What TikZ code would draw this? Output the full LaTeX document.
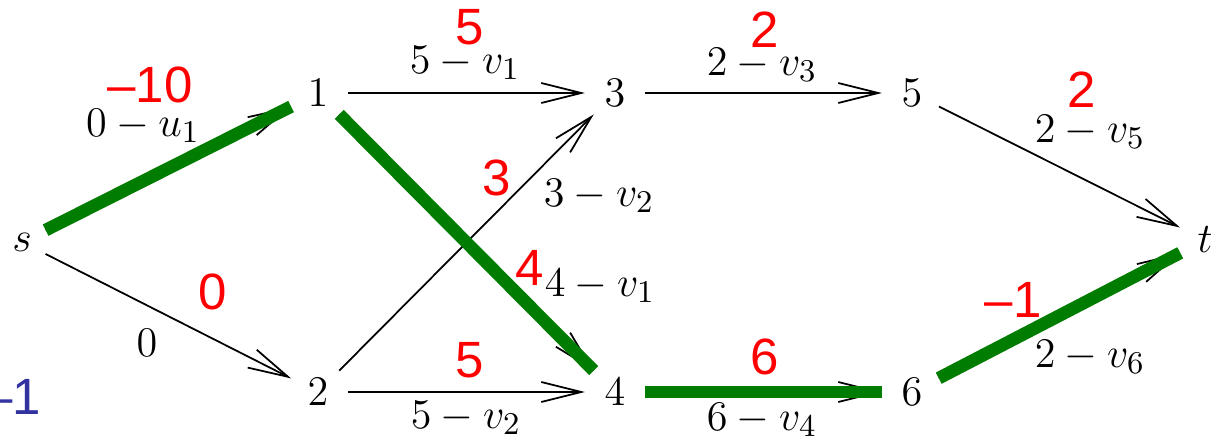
\documentclass[tikz,border=0pt]{standalone}
\usepackage{fontspec}
\newfontfamily\labfont{Liberation Sans}
\usetikzlibrary{arrows.meta}

\definecolor{flowgreen}{RGB}{0,125,0}
\definecolor{potblue}{RGB}{50,50,160}

\tikzset{
  vert/.style={circle, inner sep=2.5pt, font=\fontsize{13}{15}\selectfont},
  cost/.style={inner sep=1pt, font=\fontsize{13}{15}\selectfont},
  arc/.style={line width=0.5pt, -{Straight Barb[length=4mm,width=2mm]}},
  tight/.style={line width=3.6pt, flowgreen},
  dual/.style={inner sep=0pt, text=red, font=\labfont\fontsize{14.5}{16}\selectfont},
}

\begin{document}
\begin{tikzpicture}[x=0.01cm, y=-0.01cm]
  \useasboundingbox (0,0) rectangle (1212,438);

  % vertices
  \node[vert] (s) at (22,242) {$s$};
  \node[vert] (n1) at (318,93) {$1$};
  \node[vert] (n2) at (318,392) {$2$};
  \node[vert] (n3) at (615,93) {$3$};
  \node[vert] (n4) at (615,392) {$4$};
  \node[vert] (n5) at (912,93) {$5$};
  \node[vert] (n6) at (912,392) {$6$};
  \node[vert] (t) at (1205,240) {$t$};

  % arcs
  \draw[arc] (s) -- (n1);
  \draw[arc] (s) -- (n2);
  \draw[arc] (n1) -- (n3);
  \draw[arc] (n1) -- (n4);
  \draw[arc] (n2) -- (n3);
  \draw[arc] (n2) -- (n4);
  \draw[arc] (n3) -- (n5);
  \draw[arc] (n4) -- (n6);
  \draw[arc] (n5) -- (t);
  \draw[arc] (n6) -- (t);

  % reduced costs
  \node[cost] (c1) at (143,126) {$0-u_1$};
  \node[cost] (c2) at (147,343) {$0$};
  \node[cost] (c3) at (465,63) {$5-v_1$};
  \node[cost] (c4) at (599,196) {$3-v_2$};
  \node[cost] (c5) at (600,286) {$4-v_1$};
  \node[cost] (c6) at (466,418) {$5-v_2$};
  \node[cost] (c7) at (762,65) {$2-v_3$};
  \node[cost] (c8) at (762,420) {$6-v_4$};
  \node[cost] (c9) at (1090,132) {$2-v_5$};
  \node[cost] (c10) at (1090,357) {$2-v_6$};

  % tight arcs
  \draw[tight] (s) -- (n1);
  \draw[tight] (n1) -- (n4);
  \draw[tight] (n4) -- (n6);
  \draw[tight] (n6) -- (t);

  % dual values
  \node[dual] (d1) at (150,85) {–10};
  \node[dual] (d2) at (470,27) {5};
  \node[dual] (d3) at (765,30) {2};
  \node[dual] (d4) at (1082,90) {2};
  \node[dual] (d5) at (497,178) {3};
  \node[dual] (d6) at (530,268) {4};
  \node[dual] (d7) at (213,292) {0};
  \node[dual] (d8) at (470,360) {5};
  \node[dual] (d9) at (765,357) {6};
  \node[dual] (d10) at (1013,300) {–1};
  \node[dual, text=potblue, anchor=east] (pot) at (42,397) {–1};
\end{tikzpicture}
\end{document}
